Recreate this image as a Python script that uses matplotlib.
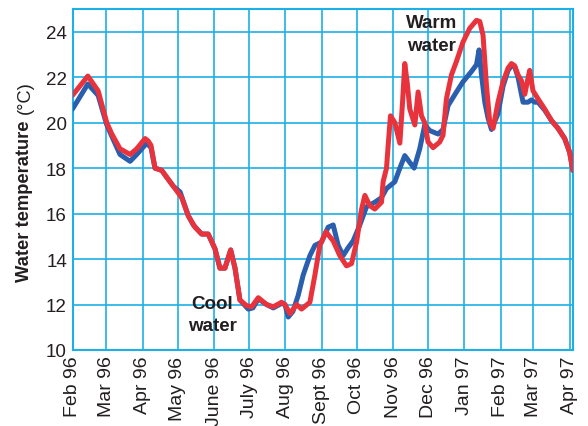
import numpy as np
import matplotlib
matplotlib.use("Agg")
import matplotlib.pyplot as plt

plt.rcParams['font.family'] = ['Liberation Sans', 'DejaVu Sans']

# Month tick positions: days since 1 Feb 1996
month_labels = ['Feb 96', 'Mar 96', 'Apr 96', 'May 96', 'June 96', 'July 96', 'Aug 96',
                'Sept 96', 'Oct 96', 'Nov 96', 'Dec 96', 'Jan 97', 'Feb 97', 'Mar 97', 'Apr 97']
month_days = [0, 29, 60, 90, 121, 151, 182, 213, 243, 274, 304, 335, 366, 394, 425]
y_ticks = [10, 12, 14, 16, 18, 20, 22, 24]

# Blue series (days since 1 Feb 1996, temperature °C)
blue_day = [0, 13.1, 21.9, 29.3, 33.6, 40.6, 49.2, 54.9, 63.5, 67.1, 70.5, 76.3, 80.5, 86.2,
            92, 99, 103.3, 110.4, 116, 121.8, 126, 130.3, 135.2, 138.9, 143.1, 150.2, 154.2,
            158.8, 165.9, 171.6, 178.7, 181.6, 184.4, 188.4, 192.9, 197.2, 202.9, 207.2, 212.9,
            218.5, 222.8, 227.1, 231.3, 235.6, 239.9, 245.6, 251.3, 258.4, 264.1, 268.4, 275.5,
            279.8, 284, 288.3, 292, 296.8, 301.1, 305.4, 312.5, 316.7, 321, 328.2, 333.8, 341,
            345.3, 347.5, 349.6, 352.4, 355.2, 358.1, 363.7, 368, 372.3, 375.2, 378, 380.8,
            385.1, 389.3, 392.2, 395, 397.9, 403.6, 409.3, 415, 420.7, 424.9, 427.7]
blue_temp = [20.6, 21.7, 21.2, 19.9, 19.4, 18.6, 18.3, 18.6, 19.1, 18.9, 18.0, 17.9, 17.6, 17.2,
             16.95, 15.9, 15.5, 15.1, 15.1, 14.45, 13.6, 13.6, 14.4, 13.6, 12.2, 11.8, 11.85,
             12.25, 12.0, 11.85, 12.05, 12.0, 11.45, 11.7, 12.4, 13.3, 14.15, 14.6, 14.75,
             15.4, 15.5, 14.6, 14.15, 14.5, 14.8, 15.5, 16.3, 16.5, 16.7, 17.1, 17.4,
             18.0, 18.55, 18.25, 18.0, 18.85, 19.9, 19.65, 19.5, 19.7, 20.75, 21.35, 21.8, 22.25,
             22.55, 23.2, 22.1, 20.9, 20.2, 19.7, 20.4, 21.6, 22.3, 22.5, 22.45, 22.0,
             20.9, 20.9, 21.0, 20.9, 20.9, 20.55, 20.1, 19.75, 19.3, 18.7, 17.9]

# Red series
red_day = [0, 13.1, 21.9, 29.3, 33.6, 40.6, 49.2, 54.9, 62, 64.6, 67.1, 70.5, 76.3, 80.5, 86.2,
           93.3, 99, 104.7, 110.4, 116, 121.8, 126, 130.3, 135.2, 138.9, 143.1, 148.8, 153.1,
           158.8, 165.9, 171.6, 178.7, 181.6, 185.8, 191.5, 195.8, 202.9, 207.2, 211.4, 216.6,
           222.8, 228.5, 234.2, 238.5, 242.8, 247.1, 249.9, 254.1, 258.4, 264.1, 265.5, 268.4,
           269.8, 271.8, 275.5, 279.8, 282.1, 284, 286, 288.3, 292.6, 295.4, 298.3, 301.1,
           303.9, 308.2, 313.9, 316.7, 319.6, 323.9, 328.2, 333.8, 339.5, 345.3, 348.1, 350.9,
           353.8, 356.7, 359.5, 363.7, 368, 372.3, 375.2, 378, 380.8, 383.7, 386.6, 389.3,
           390.8, 393.6, 397.9, 403.6, 409.3, 415, 420.7, 424.9, 427.7]
red_temp = [21.2, 22.05, 21.4, 20.0, 19.5, 18.85, 18.6, 18.85, 19.3, 19.2, 19.0, 18.0, 17.9, 17.6, 17.2,
            16.7, 15.9, 15.4, 15.1, 15.1, 14.45, 13.6, 13.6, 14.4, 13.6, 12.2, 11.95, 11.9,
            12.3, 12.0, 11.9, 12.1, 12.0, 11.6, 12.0, 11.8, 12.1, 13.3, 14.6, 15.2,
            14.8, 14.15, 13.7, 13.8, 14.75, 16.2, 16.8, 16.35, 16.2, 16.5, 17.4, 18.0,
            19.0, 20.3, 20.0, 19.1, 20.9, 22.6, 21.8, 20.6, 19.9, 21.35, 20.3, 20.0,
            19.15, 18.9, 19.15, 19.45, 21.05, 22.1, 22.7, 23.55, 24.15, 24.5, 24.45, 23.85,
            21.65, 20.0, 19.75, 20.9, 21.8, 22.4, 22.6, 22.5, 22.1, 21.85, 21.25, 21.95,
            22.3, 21.4, 21.05, 20.6, 20.1, 19.75, 19.3, 18.7, 17.9]

grid_c = '#1cb0e6'
text_c = '#231f20'

fig = plt.figure(figsize=(5.88, 4.27), dpi=100)
ax = fig.add_axes([0.1233, 0.178, 0.8512, 0.7986])

ax.plot(blue_day, blue_temp, color='#2a5fae', lw=3.6, solid_capstyle='round',
        solid_joinstyle='round', zorder=3)
ax.plot(red_day, red_temp, color='#e8333d', lw=3.6, solid_capstyle='round',
        solid_joinstyle='round', zorder=4)

ax.set_xlim(0, 427.8)
ax.set_ylim(10, 25)
ax.set_xticks(month_days)
ax.set_xticklabels(month_labels, rotation=90, fontsize=14, color=text_c)
ax.set_yticks(y_ticks)
ax.set_yticklabels([str(v) for v in y_ticks], fontsize=13.5, color=text_c)
ax.tick_params(axis='both', length=0)
ax.tick_params(axis='x', pad=4)
ax.tick_params(axis='y', pad=4)
ax.grid(True, color=grid_c, lw=1.2, zorder=1)
for s in ax.spines.values():
    s.set_color(grid_c)
    s.set_linewidth(1.5)

# y label: bold part + normal part
fig.text(25 / 588, 1 - 120 / 427, 'Water temperature', rotation=90, ha='center', va='top',
         fontsize=13.2, fontweight='bold', color=text_c)
fig.text(25 / 588, 1 - 114 / 427, '(°C)', rotation=90, ha='center', va='bottom',
         fontsize=13.2, color=text_c)

ax.text(119.4, 11.55, 'Cool\nwater', ha='center', va='center', fontsize=13.5,
        fontweight='bold', color=text_c, linespacing=1.4, zorder=5)
ax.text(306.7, 23.9, 'Warm\nwater', ha='center', va='center', fontsize=13.5,
        fontweight='bold', color=text_c, linespacing=1.4, zorder=5)

fig.savefig('out.png', dpi=100)
